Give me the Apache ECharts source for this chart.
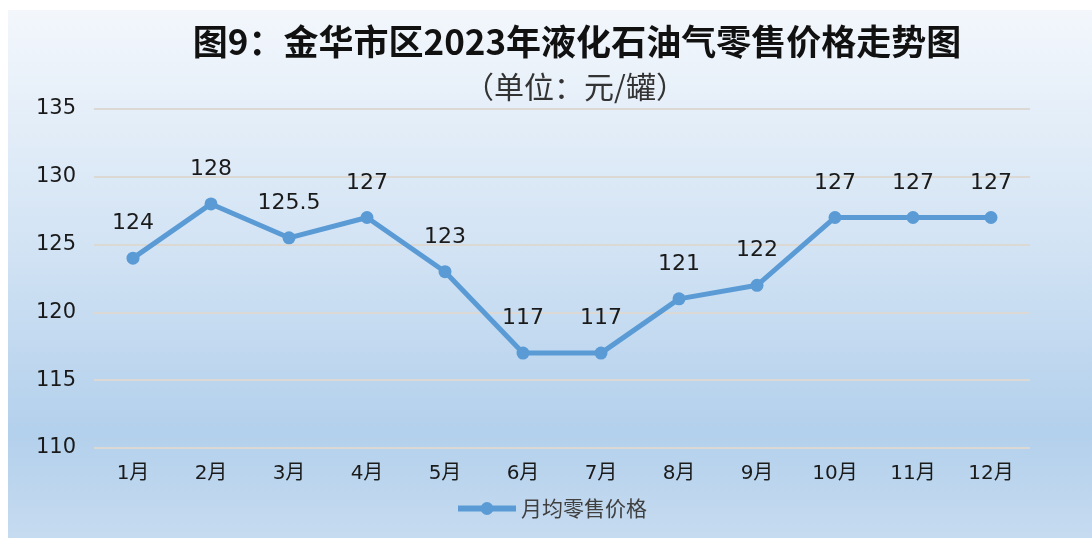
<!DOCTYPE html>
<html lang="zh">
<head>
    <meta charset="UTF-8" />
    <title>金华市区2023年液化石油气零售价格走势图</title>
    <style>
        html, body { margin: 0; padding: 0; width: 100%; height: 100%; background: #fff; }
        #main { width: 1092px; height: 538px; }
    </style>
</head>
<body>
    <div id="main"></div>
    <script src="https://cdn.jsdelivr.net/npm/echarts@6/dist/echarts.min.js"></script>
    <script type="text/javascript">
        // 数据
        var months = ['1月', '2月', '3月', '4月', '5月', '6月', '7月', '8月', '9月', '10月', '11月', '12月'];
        var prices = [124, 128, 125.5, 127, 123, 117, 117, 121, 122, 127, 127, 127];
        var seriesName = '月均零售价格';
        var yMin = 110, yMax = 135, yStep = 5;

        var chart = echarts.init(document.getElementById('main'));
        var option = {
            backgroundColor: '#ffffff',
            graphic: [{
                type: 'rect',
                z: -10,
                silent: true,
                shape: { x: 8, y: 10, width: 1084, height: 528 },
                style: {
                    fill: new echarts.graphic.LinearGradient(0, 0, 0, 1, [
                        { offset: 0, color: '#f3f7fc' },
                        { offset: 0.45, color: '#d2e3f4' },
                        { offset: 0.8, color: '#b3d0ec' },
                        { offset: 1, color: '#c6dbf0' }
                    ])
                }
            }],
            title: [{
                text: '图9：金华市区2023年液化石油气零售价格走势图',
                left: 572,
                textAlign: 'center',
                top: 19,
                textStyle: {
                    fontFamily: 'Noto Sans CJK SC',
                    fontWeight: 'bold',
                    fontSize: 35,
                    color: '#111'
                }
            }, {
                text: '（单位：元/罐）',
                left: 570,
                textAlign: 'center',
                top: 67,
                textStyle: {
                    fontFamily: 'Noto Sans CJK SC',
                    fontWeight: 'normal',
                    fontSize: 30,
                    color: '#333'
                }
            }],
            grid: { left: 94, right: 62, top: 109, bottom: 90 },
            legend: {
                bottom: 14,
                left: 450,
                itemWidth: 58,
                itemHeight: 16,
                itemGap: 10,
                lineStyle: { width: 6 },
                textStyle: { fontFamily: 'Noto Sans CJK SC', fontSize: 21, color: '#404040' },
                data: [seriesName]
            },
            xAxis: {
                type: 'category',
                data: months,
                boundaryGap: true,
                axisLine: { show: false },
                axisTick: { show: false },
                axisLabel: {
                    margin: 16,
                    fontFamily: 'DejaVu Sans, Noto Sans CJK SC',
                    fontSize: 20,
                    color: '#1a1a1a'
                }
            },
            yAxis: {
                type: 'value',
                min: yMin,
                max: yMax,
                interval: yStep,
                axisLine: { show: false },
                axisTick: { show: false },
                axisLabel: {
                    margin: 18,
                    fontFamily: 'DejaVu Sans',
                    fontSize: 21,
                    color: '#1a1a1a'
                },
                splitLine: { lineStyle: { color: '#dcd8d4', width: 2 } }
            },
            series: [{
                name: seriesName,
                type: 'line',
                data: prices,
                symbol: 'circle',
                symbolSize: 13,
                lineStyle: { color: '#5b9bd5', width: 5 },
                itemStyle: { color: '#5b9bd5' },
                label: {
                    show: true,
                    position: 'top',
                    distance: 17,
                    fontFamily: 'DejaVu Sans',
                    fontSize: 22,
                    color: '#1a1a1a'
                }
            }]
        };
        chart.setOption(option);
        window.addEventListener('resize', function () {
            chart.resize();
        });
    </script>
</body>
</html>
